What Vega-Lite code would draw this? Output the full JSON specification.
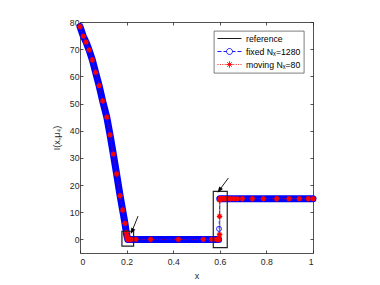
{
  "$schema": "https://vega.github.io/schema/vega-lite/v6.json",
  "autosize": {"type": "none"},
  "width": 233,
  "height": 231,
  "padding": {"left": 80, "top": 22, "right": 67, "bottom": 32},
  "background": "white",
  "datasets": {
    "ref": [
      {"x": 0, "y": 78.3}, {"x": 0.014, "y": 74.8}, {"x": 0.026, "y": 72.6}, {"x": 0.039, "y": 69.7},
      {"x": 0.053, "y": 66.1}, {"x": 0.067, "y": 61.5}, {"x": 0.082, "y": 56.6}, {"x": 0.097, "y": 51},
      {"x": 0.115, "y": 45}, {"x": 0.129, "y": 38.5}, {"x": 0.143, "y": 31.4}, {"x": 0.157, "y": 24.1},
      {"x": 0.172, "y": 16.1}, {"x": 0.183, "y": 10.8}, {"x": 0.193, "y": 5.9}, {"x": 0.2, "y": 1.8},
      {"x": 0.205, "y": 0}, {"x": 0.6, "y": 0}, {"x": 0.6, "y": 15}, {"x": 1, "y": 15}
    ],
    "fixed": [
      {"x": 0, "y": 78.3, "part": "A"}, {"x": 0.014, "y": 74.8, "part": "A"}, {"x": 0.026, "y": 72.6, "part": "A"},
      {"x": 0.039, "y": 69.7, "part": "A"}, {"x": 0.053, "y": 66.1, "part": "A"}, {"x": 0.067, "y": 61.5, "part": "A"},
      {"x": 0.082, "y": 56.6, "part": "A"}, {"x": 0.097, "y": 51, "part": "A"}, {"x": 0.115, "y": 45, "part": "A"},
      {"x": 0.129, "y": 38.5, "part": "A"}, {"x": 0.143, "y": 31.4, "part": "A"}, {"x": 0.157, "y": 24.1, "part": "A"},
      {"x": 0.172, "y": 16.1, "part": "A"}, {"x": 0.183, "y": 10.8, "part": "A"}, {"x": 0.193, "y": 5.9, "part": "A"},
      {"x": 0.2, "y": 1.8, "part": "A"}, {"x": 0.205, "y": 0, "part": "A"}, {"x": 0.595, "y": 0, "part": "A"},
      {"x": 0.5965, "y": 3.9, "part": "jump"},
      {"x": 0.6, "y": 15, "part": "B"}, {"x": 1, "y": 15, "part": "B"}
    ],
    "moving": [
      {"x": 0, "y": 78.3}, {"x": 0.014, "y": 74.8}, {"x": 0.026, "y": 72.6}, {"x": 0.039, "y": 69.7},
      {"x": 0.053, "y": 66.1}, {"x": 0.067, "y": 61.5}, {"x": 0.082, "y": 56.6}, {"x": 0.097, "y": 51},
      {"x": 0.115, "y": 45}, {"x": 0.129, "y": 38.5}, {"x": 0.143, "y": 31.4}, {"x": 0.157, "y": 24.1},
      {"x": 0.172, "y": 16.1}, {"x": 0.183, "y": 10.8}, {"x": 0.193, "y": 5.9}, {"x": 0.199, "y": 2.5},
      {"x": 0.201, "y": 1.2}, {"x": 0.203, "y": 0.4}, {"x": 0.205, "y": 0.1}, {"x": 0.207, "y": 0},
      {"x": 0.21, "y": 0}, {"x": 0.215, "y": 0}, {"x": 0.222, "y": 0}, {"x": 0.24, "y": 0},
      {"x": 0.303, "y": 0}, {"x": 0.422, "y": 0}, {"x": 0.529, "y": 0}, {"x": 0.565, "y": 0},
      {"x": 0.585, "y": 0}, {"x": 0.594, "y": 0}, {"x": 0.598, "y": 0}, {"x": 0.599, "y": 1.8},
      {"x": 0.599, "y": 8.5}, {"x": 0.6, "y": 14.5}, {"x": 0.601, "y": 15}, {"x": 0.604, "y": 15},
      {"x": 0.608, "y": 15}, {"x": 0.613, "y": 15}, {"x": 0.62, "y": 15}, {"x": 0.63, "y": 15},
      {"x": 0.645, "y": 15}, {"x": 0.66, "y": 15}, {"x": 0.675, "y": 15}, {"x": 0.697, "y": 15},
      {"x": 0.74, "y": 15}, {"x": 0.787, "y": 15}, {"x": 0.844, "y": 15}, {"x": 0.897, "y": 15},
      {"x": 0.941, "y": 15}, {"x": 0.98, "y": 15}, {"x": 1, "y": 15}
    ],
    "boxes": [
      {"x": 0.18, "x2": 0.23, "y": -2.5, "y2": 3},
      {"x": 0.572, "x2": 0.632, "y": -3, "y2": 17.7}
    ],
    "arrows": [
      {"id": "left", "x": 0.249, "y": 8.55, "x2": 0.223, "y2": 3.0},
      {"id": "right", "x": 0.637, "y": 22.6, "x2": 0.598, "y2": 18.1}
    ],
    "legend": [
      {"series": "reference", "x": 0.5, "y": 40},
      {"series": "fixed Nₓ=1280", "x": 0.5, "y": 40},
      {"series": "moving Nₓ=80", "x": 0.5, "y": 40}
    ]
  },
  "layer": [
    {
      "data": {"name": "ref"},
      "mark": {"type": "line", "color": "#000000", "strokeWidth": 0.6},
      "encoding": {
        "x": {"field": "x", "type": "quantitative", "scale": {"domain": [0, 1], "nice": false},
              "axis": {"orient": "bottom", "values": [0, 0.2, 0.4, 0.6, 0.8, 1], "format": "~g", "title": "x", "labelPadding": 7, "titlePadding": 6}},
        "y": {"field": "y", "type": "quantitative", "scale": {"domain": [-5, 80], "nice": false, "zero": false},
              "axis": {"orient": "left", "values": [0, 10, 20, 30, 40, 50, 60, 70, 80], "title": "I(x,μ₄)", "labelPadding": 4, "titlePadding": 8}},
        "order": {"value": null}
      }
    },
    {
      "data": {"name": "fixed"},
      "transform": [{"filter": "datum.part != 'jump'"}],
      "mark": {"type": "line", "color": "#0000FF", "strokeWidth": 7, "strokeCap": "round", "strokeJoin": "round"},
      "encoding": {
        "x": {"field": "x", "type": "quantitative", "axis": null},
        "y": {"field": "y", "type": "quantitative", "axis": null},
        "detail": {"field": "part"}
      }
    },
    {
      "data": {"name": "fixed"},
      "mark": {"type": "line", "color": "#0000FF", "strokeWidth": 0.6, "strokeDash": [3, 2]},
      "encoding": {
        "x": {"field": "x", "type": "quantitative", "axis": null},
        "y": {"field": "y", "type": "quantitative", "axis": null}
      }
    },
    {
      "data": {"name": "fixed"},
      "transform": [{"filter": "datum.part == 'jump'"}],
      "mark": {"type": "point", "shape": "circle", "filled": false, "color": "#0000FF", "size": 25, "strokeWidth": 0.8, "opacity": 1},
      "encoding": {
        "x": {"field": "x", "type": "quantitative", "axis": null},
        "y": {"field": "y", "type": "quantitative", "axis": null}
      }
    },
    {
      "data": {"name": "moving"},
      "mark": {"type": "line", "color": "#FF0000", "strokeWidth": 0.6, "strokeDash": [1, 1.5]},
      "encoding": {
        "x": {"field": "x", "type": "quantitative", "axis": null},
        "y": {"field": "y", "type": "quantitative", "axis": null},
        "order": {"value": null}
      }
    },
    {
      "data": {"name": "moving"},
      "mark": {"type": "point", "shape": "M-1,0H1M0,-1V1M-0.7,-0.7L0.7,0.7M-0.7,0.7L0.7,-0.7", "filled": false, "color": "#FF0000", "size": 30, "strokeWidth": 1.3, "opacity": 1},
      "encoding": {
        "x": {"field": "x", "type": "quantitative", "axis": null},
        "y": {"field": "y", "type": "quantitative", "axis": null}
      }
    },
    {
      "data": {"name": "boxes"},
      "mark": {"type": "rect", "filled": false, "color": "#222222", "strokeWidth": 1.2},
      "encoding": {
        "x": {"field": "x", "type": "quantitative",
              "axis": {"orient": "top", "values": [0, 0.2, 0.4, 0.6, 0.8, 1], "labels": false, "title": null}},
        "x2": {"field": "x2"},
        "y": {"field": "y", "type": "quantitative",
              "axis": {"orient": "right", "values": [0, 10, 20, 30, 40, 50, 60, 70, 80], "labels": false, "title": null}},
        "y2": {"field": "y2"}
      }
    },
    {
      "data": {"name": "arrows"},
      "mark": {"type": "rule", "color": "#000000", "strokeWidth": 0.9},
      "encoding": {
        "x": {"field": "x", "type": "quantitative", "axis": null},
        "y": {"field": "y", "type": "quantitative", "axis": null},
        "x2": {"field": "x2"},
        "y2": {"field": "y2"}
      }
    },
    {
      "data": {"name": "arrows"},
      "transform": [{"filter": "datum.id == 'left'"}],
      "mark": {"type": "point", "shape": "M0,-1L0.75,1L-0.75,1Z", "filled": true, "color": "#000000", "size": 36, "angle": 208, "opacity": 1},
      "encoding": {
        "x": {"field": "x2", "type": "quantitative", "axis": null},
        "y": {"field": "y2", "type": "quantitative", "axis": null}
      }
    },
    {
      "data": {"name": "arrows"},
      "transform": [{"filter": "datum.id == 'right'"}],
      "mark": {"type": "point", "shape": "M0,-1L0.75,1L-0.75,1Z", "filled": true, "color": "#000000", "size": 36, "angle": 216, "opacity": 1},
      "encoding": {
        "x": {"field": "x2", "type": "quantitative", "axis": null},
        "y": {"field": "y2", "type": "quantitative", "axis": null}
      }
    },
    {
      "data": {"name": "legend"},
      "mark": {"type": "point", "filled": false, "opacity": 0},
      "encoding": {
        "x": {"field": "x", "type": "quantitative", "axis": null},
        "y": {"field": "y", "type": "quantitative", "axis": null},
        "color": {"field": "series", "type": "nominal",
                  "scale": {"domain": ["reference", "fixed Nₓ=1280", "moving Nₓ=80"], "range": ["#000000", "#0000FF", "#FF0000"]},
                  "legend": {"title": null}},
        "shape": {"field": "series", "type": "nominal",
                  "scale": {"domain": ["reference", "fixed Nₓ=1280", "moving Nₓ=80"],
                            "range": ["M-1,0H5",
                                      "M-1,0H0M0.5,0H1.25M2.75,0H3.5M4,0H5M2.75,0A0.75,0.75,0,1,1,1.25,0A0.75,0.75,0,1,1,2.75,0",
                                      "M-1,0H-0.75M-0.4,0H-0.15M0.2,0H0.45M0.8,0H1.05M2.95,0H3.2M3.55,0H3.8M4.15,0H4.4M4.75,0H5M1.2,0H2.8M2,-0.8V0.8M1.43,-0.57L2.57,0.57M1.43,0.57L2.57,-0.57"]},
                  "legend": {"title": null}}
      }
    }
  ],
  "config": {
    "view": {"stroke": null},
    "font": "Liberation Sans",
    "axis": {
      "labelFont": "Liberation Sans", "labelFontSize": 8.7, "labelColor": "#262626",
      "titleFont": "Liberation Sans", "titleFontSize": 9, "titleColor": "#262626", "titleFontWeight": "normal",
      "domainColor": "#262626", "tickColor": "#262626", "domainWidth": 0.8, "tickWidth": 0.8,
      "grid": false, "tickSize": -3
    },
    "legend": {
      "orient": "top-right", "offset": 9, "padding": 3,
      "fillColor": "#FFFFFF", "strokeColor": "#262626", "strokeWidth": 0.6,
      "symbolSize": 64, "symbolStrokeWidth": 0.9, "symbolOpacity": 1,
      "labelFont": "Liberation Sans", "labelFontSize": 8.7, "labelColor": "#000000",
      "labelOffset": 20, "rowPadding": 2
    }
  }
}
